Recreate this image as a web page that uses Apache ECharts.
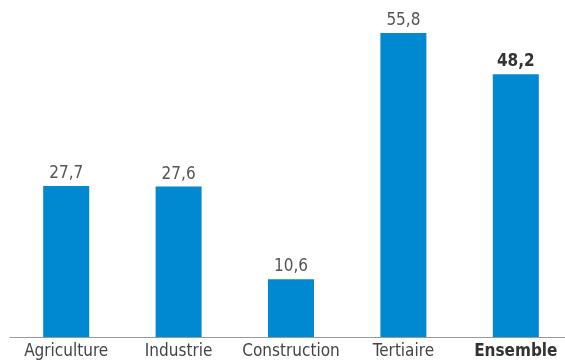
<!DOCTYPE html>
<html>
<head>
<meta charset="utf-8">
<script src="https://cdn.jsdelivr.net/npm/echarts@6/dist/echarts.min.js"></script>
<style>
  html, body { margin: 0; padding: 0; background: #fff; overflow: hidden; }
  #chart { width: 572px; height: 360px; }
</style>
</head>
<body>
<div id="chart"></div>
<script>
var categories = ['Agriculture', 'Industrie', 'Construction', 'Tertiaire', 'Ensemble'];
var values = [27.7, 27.6, 10.6, 55.8, 48.2];
var barColor = '#0088d1';
var font = '"Liberation Sans Narrow", "DejaVu Sans Condensed", sans-serif';

var chart = echarts.init(document.getElementById('chart'));

var data = values.map(function (v, i) {
    var last = i === values.length - 1;
    return {
        value: v,
        label: { fontWeight: last ? 'bold' : 'normal', color: last ? '#333' : '#555' }
    };
});

chart.setOption({
    animation: false,
    grid: { left: 10, right: 0, top: 10, bottom: 21 },
    xAxis: {
        type: 'category',
        data: categories,
        axisTick: { show: false },
        axisLine: { lineStyle: { color: '#999', width: 1 } },
        axisLabel: {
            interval: 0,
            margin: 6,
            fontFamily: font,
            fontSize: 17,
            color: '#444',
            formatter: function (v) {
                return v === 'Ensemble' ? '{b|' + v + '}' : v;
            },
            rich: {
                b: { fontFamily: font, fontSize: 17, fontWeight: 'bold', color: '#333' }
            }
        }
    },
    yAxis: {
        type: 'value',
        min: 0,
        max: 60,
        show: false
    },
    series: [{
        type: 'bar',
        data: data,
        barWidth: 46,
        itemStyle: { color: barColor },
        label: {
            show: true,
            position: 'top',
            distance: 4,
            fontFamily: font,
            fontSize: 17,
            formatter: function (p) {
                return String(p.value).replace('.', ',');
            }
        }
    }]
});
</script>
</body>
</html>
